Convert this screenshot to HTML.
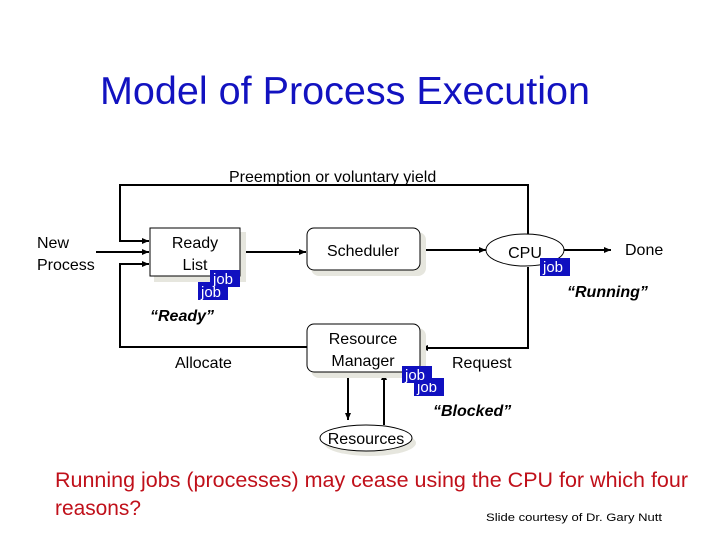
<!DOCTYPE html>
<html><head><meta charset="utf-8"><style>
html,body{margin:0;padding:0;background:#fff;}
svg{display:block;}
text{font-family:"Liberation Sans",Arial,sans-serif;}
</style></head><body>
<svg width="720" height="540" viewBox="0 0 720 540" xmlns="http://www.w3.org/2000/svg">
<defs>
<marker id="a" markerWidth="8" markerHeight="8" refX="7" refY="4" orient="auto" markerUnits="userSpaceOnUse">
<path d="M0,1 L7,4 L0,7 z" fill="#000"/></marker>
</defs>
<text x="100" y="104" font-size="39" fill="#1212c0" textLength="490" lengthAdjust="spacingAndGlyphs">Model of Process Execution</text>

<g stroke="#000" stroke-width="2" fill="none">
<!-- top loop -->
<polyline points="528,234 528,185 120,185 120,241 149,241" marker-end="url(#a)"/>
<line x1="96" y1="252" x2="149" y2="252" marker-end="url(#a)"/>
<polyline points="307,347 120,347 120,264 149,264" marker-end="url(#a)"/>
<line x1="241" y1="252" x2="306" y2="252" marker-end="url(#a)"/>
<line x1="420" y1="250" x2="486" y2="250" marker-end="url(#a)"/>
<line x1="564" y1="250" x2="611" y2="250" marker-end="url(#a)"/>
<polyline points="528,267 528,348 421,348" marker-end="url(#a)"/>
<line x1="348" y1="372" x2="348" y2="420" marker-end="url(#a)"/>
<line x1="384" y1="425" x2="384" y2="373" marker-end="url(#a)"/>
</g>

<!-- shadows -->
<rect x="154" y="232" width="92" height="50" fill="#e6e6de"/>
<rect x="311" y="232" width="115" height="44" rx="8" fill="#e6e6de"/>
<rect x="311" y="328" width="115" height="50" rx="8" fill="#e6e6de"/>
<ellipse cx="370" cy="443" rx="46" ry="13" fill="#e6e6de"/>

<rect x="150" y="228" width="90" height="48" fill="#fff" stroke="#000" stroke-width="1"/>
<text x="195" y="248" font-size="16" text-anchor="middle">Ready</text>
<text x="195" y="270" font-size="16" text-anchor="middle">List</text>
<rect x="307" y="228" width="113" height="42" rx="7" fill="#fff" stroke="#000" stroke-width="1"/>
<text x="363" y="256" font-size="16" text-anchor="middle">Scheduler</text>
<rect x="307" y="324" width="113" height="48" rx="7" fill="#fff" stroke="#000" stroke-width="1"/>
<text x="363" y="344" font-size="16" text-anchor="middle">Resource</text>
<text x="363" y="366" font-size="16" text-anchor="middle">Manager</text>
<ellipse cx="525" cy="250" rx="39" ry="16" fill="#fff" stroke="#000" stroke-width="1"/>
<text x="525" y="258" font-size="16" text-anchor="middle">CPU</text>
<ellipse cx="366" cy="438" rx="46" ry="13" fill="#fff" stroke="#000" stroke-width="1"/>
<text x="366" y="444" font-size="16" text-anchor="middle">Resources</text>

<!-- job tags -->
<g font-size="15" fill="#fff">
<rect x="198" y="282" width="30" height="18" fill="#1010c0"/><text x="201" y="297" fill="#fff">job</text>
<rect x="210" y="270" width="30" height="17" fill="#1010c0"/><text x="213" y="284" fill="#fff">job</text>
<rect x="540" y="258" width="30" height="18" fill="#1010c0"/><text x="543" y="272" fill="#fff">job</text>
<rect x="414" y="378" width="30" height="18" fill="#1010c0"/><text x="417" y="392" fill="#fff">job</text>
<rect x="402" y="366" width="30" height="17" fill="#1010c0"/><text x="405" y="380" fill="#fff">job</text>
</g>

<text x="229" y="182" font-size="16">Preemption or voluntary yield</text>
<text x="37" y="248" font-size="16">New</text>
<text x="37" y="270" font-size="16">Process</text>
<text x="625" y="255" font-size="16">Done</text>
<text x="175" y="368" font-size="16">Allocate</text>
<text x="452" y="368" font-size="16">Request</text>
<g font-size="16" font-weight="bold" font-style="italic">
<text x="150" y="321">“Ready”</text>
<text x="567" y="297">“Running”</text>
<text x="433" y="416">“Blocked”</text>
</g>

<text x="55" y="487" font-size="21" fill="#c0101a" textLength="633" lengthAdjust="spacingAndGlyphs">Running jobs (processes) may cease using the CPU for which four</text>
<text x="55" y="515" font-size="21" fill="#c0101a" textLength="86" lengthAdjust="spacingAndGlyphs">reasons?</text>
<text x="486" y="521" font-size="11" fill="#000" textLength="176" lengthAdjust="spacingAndGlyphs">Slide courtesy of Dr. Gary Nutt</text>
</svg>
</body></html>
